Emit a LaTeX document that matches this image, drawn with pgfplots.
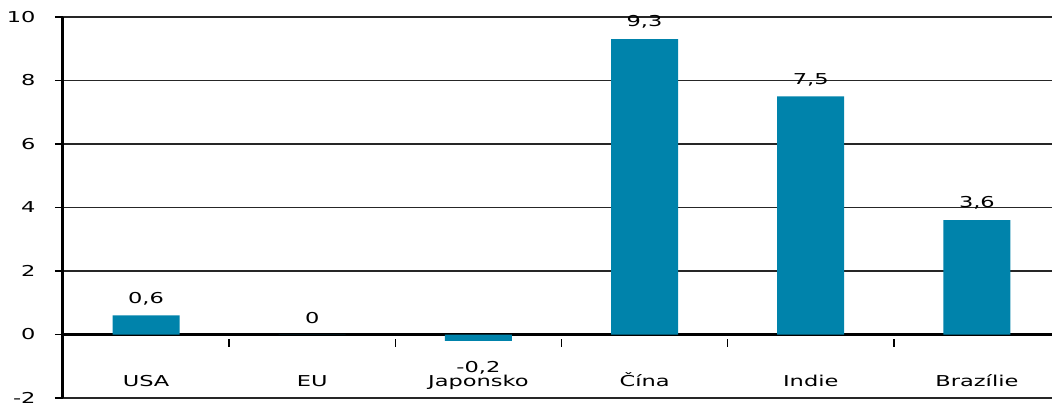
\documentclass[border=0pt]{standalone}
\usepackage{pgfplots}
\pgfplotsset{compat=1.18}
\usepackage{fontspec}
\setmainfont[FakeStretch=1.5]{DejaVu Sans}
\definecolor{barblue}{RGB}{0,131,171}
\begin{document}
\begin{tikzpicture}[x=1pt,y=1pt]
\clip (-63,-10) rectangle (989,398);
\begin{axis}[
  at={(0,0)}, anchor=south west,
  scale only axis, width=989pt, height=381pt,
  xmin=-0.5, xmax=5.452, ymin=-2, ymax=10,
  /pgf/number format/assume math mode=true,
  /pgf/number format/use comma,
  /pgf/number format/fixed,
  font=\fontsize{15}{18}\selectfont,
  ytick={-2,0,...,10},
  axis y line=left,
  axis x line=middle,
  x axis line style={-, line width=2.5pt, black},
  y axis line style={-, line width=3pt, black},
  ymajorgrids,
  major grid style={black!85, line width=1.2pt},
  ytick style={black, line width=1.5pt},
  tick align=outside,
  major tick length=8pt,
  minor tick length=8pt,
  yticklabel style={xshift=-16pt, black},
  xtick={0,...,5},
  xticklabels={USA, EU, Japonsko, Čína, Indie, Brazílie},
  major x tick style={draw=none},
  minor xtick={0.5,1.5,2.5,3.5,4.5},
  minor x tick style={draw=black, line width=1.5pt, yshift=-4pt},
  xticklabel style={anchor=base, yshift=-44pt, black},
  visualization depends on={y \as \rawy},
  nodes near coords,
  nodes near coords align={vertical},
  every node near coord/.append style={black, font=\fontsize{15}{18}\selectfont,
     yshift={(\rawy<0)*(-24pt)+7pt}},
]
\addplot[ybar, bar width=67pt, fill=barblue, draw=none]
  coordinates {(0,0.6) (1,0) (2,-0.2) (3,9.3) (4,7.5) (5,3.6)};
\end{axis}
\end{tikzpicture}
\end{document}
